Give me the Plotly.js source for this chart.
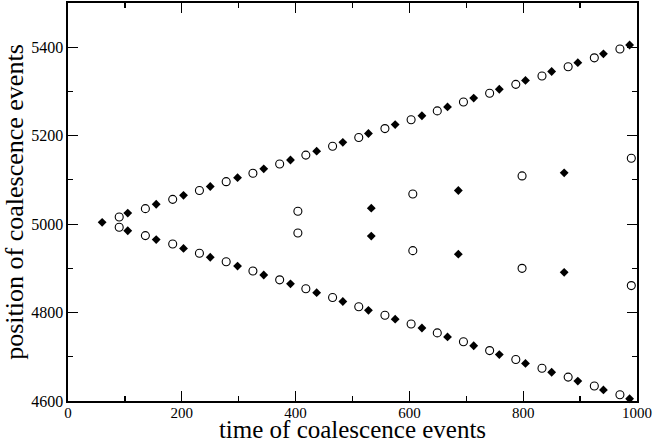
<!DOCTYPE html>
<html>
<head>
<meta charset="utf-8">
<script src="https://cdn.plot.ly/plotly-3.0.1.min.js"></script>
<style>html,body{margin:0;padding:0;background:#fff;}#chart{width:654px;height:443px;}</style>
</head>
<body>
<div id="chart"></div>
<script>
// Filled diamonds
const diamondUpperX = [60, 105, 155, 203, 250, 298, 344, 391, 437, 483, 528, 575, 622, 667, 713, 758, 804, 850, 896, 941, 987];
const diamondUpperY = [5004, 5025, 5045, 5065, 5085, 5105, 5125, 5145, 5165, 5185, 5205, 5225, 5245, 5265, 5285, 5305, 5325, 5345, 5365, 5385, 5405];
const diamondLowerX = [105, 155, 203, 250, 298, 344, 391, 437, 483, 528, 575, 622, 667, 713, 758, 804, 850, 896, 941, 987];
const diamondLowerY = [4985, 4965, 4945, 4925, 4905, 4885, 4865, 4845, 4825, 4805, 4785, 4765, 4745, 4725, 4705, 4685, 4665, 4645, 4625, 4605];
const diamondInnerX = [533, 533, 686, 686, 872, 872];
const diamondInnerY = [5036, 4973, 5076, 4932, 5116, 4891];

// Open circles
const circleUpperX = [90, 136, 184, 231, 278, 325, 372, 418, 465, 511, 557, 603, 649, 695, 741, 787, 833, 879, 925, 970];
const circleUpperY = [5016, 5035, 5056, 5076, 5096, 5115, 5136, 5156, 5176, 5196, 5216, 5236, 5256, 5276, 5296, 5316, 5335, 5356, 5376, 5396];
const circleLowerX = [90, 136, 184, 231, 278, 325, 372, 418, 465, 511, 557, 603, 649, 695, 741, 787, 833, 879, 925, 970];
const circleLowerY = [4993, 4974, 4955, 4934, 4915, 4894, 4874, 4854, 4834, 4813, 4794, 4774, 4754, 4734, 4714, 4694, 4674, 4654, 4634, 4614];
const circleInnerX = [404, 404, 606, 606, 798, 798, 990, 990];
const circleInnerY = [5029, 4980, 5068, 4940, 5109, 4900, 5149, 4861];

const xTitle = "time of coalescence events";
const yTitle = "position of coalescence events";

const fontFam = "Liberation Serif";

const traces = [
  {
    type: "scatter", mode: "markers",
    x: circleUpperX.concat(circleLowerX, circleInnerX),
    y: circleUpperY.concat(circleLowerY, circleInnerY),
    marker: {symbol: "circle-open", size: 8, color: "#000", line: {width: 1.1, color: "#000"}},
    hoverinfo: "x+y", showlegend: false, cliponaxis: false
  },
  {
    type: "scatter", mode: "markers",
    x: diamondUpperX.concat(diamondLowerX, diamondInnerX),
    y: diamondUpperY.concat(diamondLowerY, diamondInnerY),
    marker: {symbol: "diamond", size: 6.8, color: "#000", line: {width: 0}},
    hoverinfo: "x+y", showlegend: false, cliponaxis: false
  }
];

function axisCommon() {
  return {
    showgrid: false, zeroline: false,
    showline: true, linecolor: "#000", linewidth: 1.6, mirror: "allticks",
    ticks: "inside", ticklen: 10, tickwidth: 1.2, tickcolor: "#000",
    tickfont: {family: fontFam, size: 16, color: "#000"},
    minor: {ticks: "inside", ticklen: 5, tickwidth: 1.2, tickcolor: "#000", dtick: 100, showgrid: false}
  };
}

const layout = {
  width: 654, height: 443,
  font: {family: fontFam, color: "#000"},
  margin: {l: 68, r: 17, t: 3, b: 42, pad: 0},
  paper_bgcolor: "#fff", plot_bgcolor: "#fff",
  showlegend: false,
  xaxis: Object.assign(axisCommon(), {
    range: [0, 1000], dtick: 200, tick0: 0, autorange: false,
    ticklabelstandoff: -3,
    tickfont: {family: fontFam, size: 15, color: "#000"},
    title: {text: xTitle, font: {family: fontFam, size: 25, color: "#000"}, standoff: 2}
  }),
  yaxis: Object.assign(axisCommon(), {
    range: [4600, 5500], dtick: 200, tick0: 4600, autorange: false,
    ticklabelstandoff: 0,
    title: {text: yTitle, font: {family: fontFam, size: 26, color: "#000"}, standoff: 0}
  })
};

Plotly.newPlot("chart", traces, layout, {displayModeBar: false, staticPlot: true});
</script>
</body>
</html>
